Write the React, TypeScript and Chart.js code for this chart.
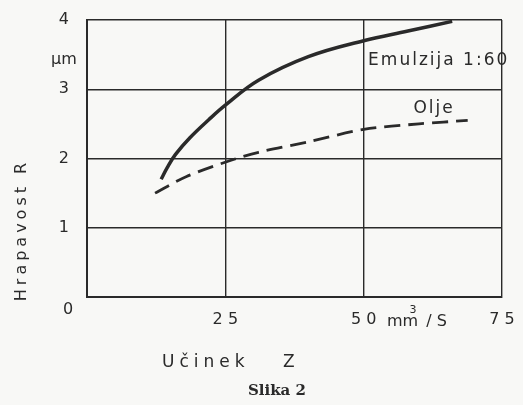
import React, { useEffect, useRef } from "react";
import { Chart, registerables } from "chart.js";
Chart.register(...registerables);

const emulzijaX = [13.4, 14.5, 16, 18.6, 22, 25, 31, 40, 50, 58, 66];
const emulzijaY = [1.7, 1.87, 2.06, 2.3, 2.56, 2.77, 3.13, 3.47, 3.7, 3.84, 3.98];
const oljeX = [12.3, 18, 25.5, 31, 40, 50, 60, 68.8];
const oljeY = [1.5, 1.74, 1.96, 2.09, 2.24, 2.42, 2.5, 2.55];
const xTickLabels = ["25", "50", "75"];
const yTickLabels = ["1", "2", "3", "4"];

const FONT = "'DejaVu Sans', sans-serif";
const INK = "#2a2a2a";

const textPlugin = {
  id: "texts",
  beforeDraw(chart: any) {
    const { ctx } = chart;
    ctx.save();
    ctx.fillStyle = "#f8f8f6";
    ctx.fillRect(0, 0, chart.width, chart.height);
    ctx.restore();
  },
  afterDraw(chart: any) {
    const { ctx, scales } = chart;
    const xs = scales.x;
    const ys = scales.y;
    ctx.save();
    ctx.fillStyle = INK;
    ctx.textBaseline = "middle";
    ctx.textAlign = "center";
    ctx.font = `16px ${FONT}`;
    // "0" below origin
    ctx.fillText("0", xs.left - 19, ys.bottom + 13);
    // unit µm
    ctx.fillText("µm", xs.left - 23, ys.getPixelForValue(3.43));
    // unit mm³/S
    ctx.textAlign = "left";
    ctx.fillText("mm", xs.getPixelForValue(54.2), ys.bottom + 25);
    ctx.font = `11px ${FONT}`;
    ctx.fillText("3", xs.getPixelForValue(58.3), ys.bottom + 13);
    ctx.font = `16px ${FONT}`;
    ctx.fillText("/ S", xs.getPixelForValue(61.3), ys.bottom + 25);
    // series labels
    (ctx as any).letterSpacing = "2px";
    ctx.font = `17px ${FONT}`;
    ctx.fillText("Emulzija 1:60", xs.getPixelForValue(50.8), ys.getPixelForValue(3.42));
    ctx.fillText("Olje", xs.getPixelForValue(59.0), ys.getPixelForValue(2.72));
    // x title
    (ctx as any).letterSpacing = "5px";
    ctx.font = `17px ${FONT}`;
    ctx.textAlign = "left";
    ctx.fillText("Učinek", 162, 363);
    ctx.fillText("Z", 283, 363);
    // figure caption
    (ctx as any).letterSpacing = "0px";
    ctx.font = `bold 15px 'DejaVu Serif', serif`;
    ctx.textAlign = "center";
    ctx.fillText("Slika 2", 277, 391);
    // y title
    ctx.translate(22, 232);
    ctx.rotate(-Math.PI / 2);
    (ctx as any).letterSpacing = "4px";
    ctx.font = `16px ${FONT}`;
    ctx.fillText("Hrapavost R", 2, 0);
    ctx.restore();
  },
};

export default function App() {
  const ref = useRef<HTMLCanvasElement>(null);
  useEffect(() => {
    const chart = new Chart(ref.current!, {
      type: "line",
      data: {
        datasets: [
          {
            label: "Emulzija 1:60",
            data: emulzijaX.map((x, i) => ({ x, y: emulzijaY[i] })),
            borderColor: INK,
            borderWidth: 3.5,
            pointRadius: 0,
            tension: 0.4,
          },
          {
            label: "Olje",
            data: oljeX.map((x, i) => ({ x, y: oljeY[i] })),
            borderColor: INK,
            borderWidth: 2.8,
            borderDash: [16, 8],
            pointRadius: 0,
            tension: 0.3,
          },
        ],
      },
      options: {
        animation: false,
        responsive: false,
        layout: { padding: { top: 20, right: 21, left: 0, bottom: 0 } },
        plugins: { legend: { display: false }, tooltip: { enabled: false } },
        scales: {
          x: {
            type: "linear",
            min: 0,
            max: 75,
            afterBuildTicks: (s: any) => {
              s.ticks = [0, 25, 50, 75].map((v) => ({ value: v }));
            },
            afterFit: (s: any) => {
              s.height = 108;
              s.paddingLeft = 0;
              s.paddingRight = 0;
            },
            ticks: {
              padding: 13,
              color: INK,
              font: { family: FONT, size: 16 },
              maxRotation: 0,
              callback: (v: any) => {
                const i = [25, 50, 75].indexOf(Number(v));
                return i >= 0 ? xTickLabels[i].split("").join(" ") : "";
              },
            },
            grid: { color: INK, lineWidth: 1.4, drawTicks: false },
            border: { color: INK, width: 2 },
          },
          y: {
            type: "linear",
            min: 0,
            max: 4,
            afterBuildTicks: (s: any) => {
              s.ticks = [0, 1, 2, 3, 4].map((v) => ({ value: v }));
            },
            afterFit: (s: any) => {
              s.width = 87;
              s.paddingTop = 0;
              s.paddingBottom = 0;
            },
            ticks: {
              padding: 18,
              color: INK,
              font: { family: FONT, size: 16 },
              callback: (v: any) => {
                const i = Number(v) - 1;
                return i >= 0 ? yTickLabels[i] : "";
              },
            },
            grid: { color: INK, lineWidth: 1.4, drawTicks: false },
            border: { color: INK, width: 2 },
          },
        },
      },
      plugins: [textPlugin],
    } as any);
    return () => chart.destroy();
  }, []);
  return (
    <div style={{ position: "fixed", left: 0, top: 0, width: 523, height: 405 }}>
      <canvas ref={ref} width={523} height={405} style={{ display: "block" }} />
    </div>
  );
}
